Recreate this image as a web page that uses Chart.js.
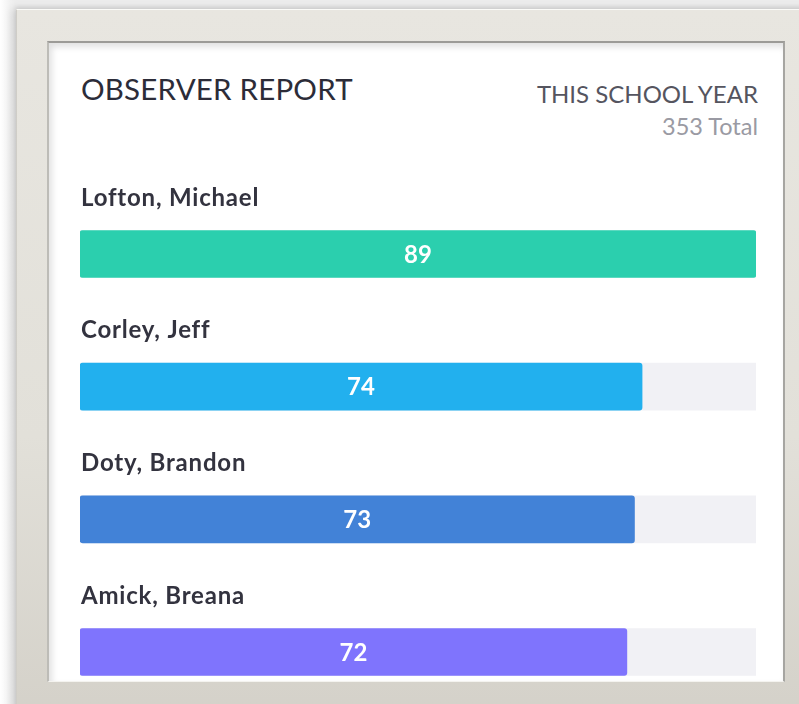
<!DOCTYPE html>
<html>
<head>
<meta charset="utf-8">
<title>Observer Report</title>
<script src="https://cdn.jsdelivr.net/npm/chart.js@4.4.1/dist/chart.umd.min.js"></script>
<style>
  html, body { margin: 0; padding: 0; }
  body {
    width: 799px; height: 704px; overflow: hidden; position: relative;
    background: linear-gradient(to right, #ffffff 0px, #f1f1f1 10px, #ececec 16px);
    font-family: Lato, "Open Sans", sans-serif;
  }
  .frame {
    position: absolute; left: 16px; top: 9px; width: 800px; height: 710px;
    background: linear-gradient(to bottom, #e8e6e0 0%, #e2e0d9 60%, #d4d1c9 100%);
    border-top: 1px solid #fbfbf8; border-left: 1px solid #cfcdc7;
    box-shadow: -4px 0 8px rgba(0,0,0,0.12), 0 -2px 4px rgba(0,0,0,0.08);
  }
  .card {
    position: absolute; left: 47px; top: 41px; width: 734px; height: 638px;
    background: #fff; overflow: hidden;
    border-top: 2px solid #9c9b97; border-left: 2px solid #bdbcb7;
    border-right: 2px solid #a6a5a1; border-bottom: 1px solid #f4f3ef;
    box-shadow: inset 3px 4px 6px rgba(0,0,0,0.12);
  }
  .title {
    position: absolute; left: 32px; top: 28px;
    font-size: 29.5px; color: #2c2c38; letter-spacing: 0.2px;
  }
  .period {
    position: absolute; right: 25px; top: 35px; text-align: right;
    font-size: 24px; color: #55555f; line-height: 32px;
  }
  .period span { color: #9a9aa3; font-size: 23.5px; }
  .chart-box { position: absolute; left: 31px; top: 127px; width: 676px; height: 511px; }
</style>
</head>
<body>
<div class="frame"></div>
<div class="card">
  <div class="title">OBSERVER REPORT</div>
  <div class="period">THIS SCHOOL YEAR<br><span>353 Total</span></div>
  <div class="chart-box"><canvas id="observers"></canvas></div>
</div>
<script>
// observations per observer this school year
const observers = ["Lofton, Michael", "Corley, Jeff", "Doty, Brandon", "Amick, Breana"];
const observations = [89, 74, 73, 72];
const barColors = ["#2bcfae", "#22b0ee", "#4282d7", "#7f74fd"];
const scaleMax = 89;
const track = observers.map(() => scaleMax);

// names above each bar, count in the middle of it
const barText = {
  id: 'barText',
  afterDatasetsDraw(chart) {
    const ctx = chart.ctx;
    const bars = chart.getDatasetMeta(0).data;
    ctx.save();
    bars.forEach((bar, i) => {
      ctx.textBaseline = 'alphabetic';
      ctx.textAlign = 'left';
      ctx.fillStyle = '#33333f';
      ctx.font = 'bold 24px Lato';
      ctx.letterSpacing = '0.8px';
      ctx.fillText(observers[i], chart.chartArea.left + 1, bar.y - bar.height / 2 - 25);

      ctx.textAlign = 'center';
      ctx.textBaseline = 'middle';
      ctx.fillStyle = '#ffffff';
      ctx.font = 'bold 24px Lato';
      ctx.letterSpacing = '0px';
      ctx.fillText(observations[i], (bar.base + bar.x) / 2, bar.y + 1);
    });
    ctx.restore();
  }
};

const ctx = document.getElementById('observers').getContext('2d');
const chart = new Chart(ctx, {
  type: 'bar',
  data: {
    labels: observers,
    datasets: [{
      data: observations,
      backgroundColor: barColors,
      borderRadius: 3,
      borderSkipped: false,
      barThickness: 47,
      grouped: false,
      clip: false
    }, {
      data: track,
      backgroundColor: '#f1f1f5',
      barThickness: 47,
      grouped: false,
      clip: false
    }]
  },
  options: {
    indexAxis: 'y',
    responsive: true,
    maintainAspectRatio: false,
    animation: false,
    layout: { padding: { top: 84, bottom: 29, left: 0, right: 0 } },
    scales: {
      x: { min: 0, max: scaleMax, display: false },
      y: { offset: false, display: false }
    },
    plugins: {
      legend: { display: false },
      tooltip: { enabled: false }
    }
  },
  plugins: [barText]
});
</script>
</body>
</html>
